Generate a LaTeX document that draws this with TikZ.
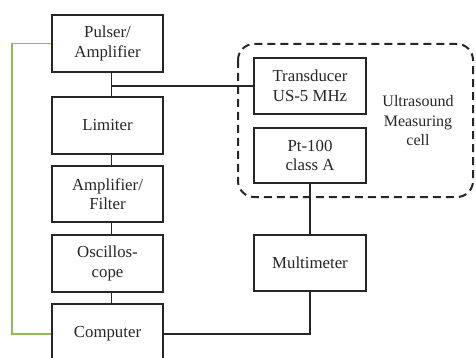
\documentclass[tikz,border=0pt]{standalone}
\usepackage{fontspec}
\setmainfont{Liberation Serif}
\begin{document}
\begin{tikzpicture}[x=1pt,y=-1pt,
  blk/.style={draw=black!85,line width=2pt,fill=white,minimum width=111pt,align=center,
     font=\fontsize{16.8}{19.5}\selectfont,text=black!85,inner sep=0pt},
  wire/.style={draw=black!85,line width=1.8pt},
  gwire/.style={draw={rgb,255:red,140;green,190;blue,80},line width=1.6pt}]
\useasboundingbox (0,0) rectangle (476,358);
\draw[line width=2pt,draw=black!85,dash pattern=on 8pt off 5pt,rounded corners=16pt]
  (238,44) rectangle (473,197);
\node[blk,minimum height=57pt] (pulser) at (107.5,43.5) {Pulser/\\Amplifier};
\node[blk,minimum height=57pt] (limiter) at (107.5,125.5) {Limiter};
\node[blk,minimum height=56pt] (ampf) at (107.5,194) {Amplifier/\\Filter};
\node[blk,minimum height=57pt] (osc) at (107.5,263.5) {Oscillos-\\cope};
\node[blk,minimum height=60pt] (comp) at (107.5,334) {Computer};
\node[blk,minimum width=112pt,minimum height=56pt] (trans) at (310,86) {Transducer\\US-5 MHz};
\node[blk,minimum width=112pt,minimum height=55pt] (pt) at (310,155.5) {Pt-100\\class A};
\node[blk,minimum width=112pt,minimum height=56pt] (multi) at (310,263) {Multimeter};
\node[align=center,font=\fontsize{16}{19.5}\selectfont,text=black!85] (cell) at (418,121) {Ultrasound\\Measuring\\cell};
\coordinate (br) at ([xshift=4pt]pulser.south |- trans.west);
\draw[wire] ([xshift=4pt]pulser.south) -- ([xshift=4pt]limiter.north);
\draw[wire] (br) -- (trans.west);
\draw[wire] ([xshift=4pt]limiter.south) -- ([xshift=4pt]ampf.north);
\draw[wire] ([xshift=4pt]ampf.south) -- ([xshift=4pt]osc.north);
\draw[wire] ([xshift=4pt]osc.south) -- ([xshift=4pt]comp.north);
\draw[wire] (pt.south) -- (multi.north);
\draw[wire] (comp.east) -| (multi.south);
\draw[gwire] (pulser.west) -- ++(-39,0) |- (comp.west);
\end{tikzpicture}
\end{document}
